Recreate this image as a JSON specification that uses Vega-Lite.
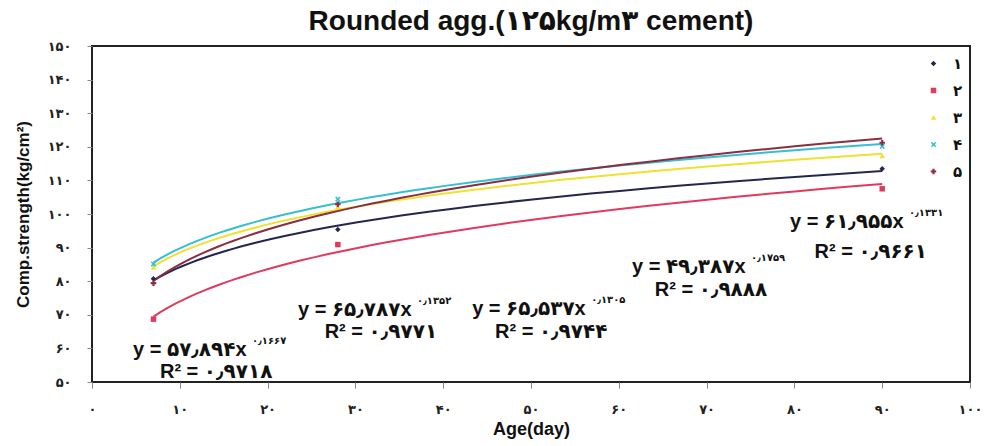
{
  "$schema": "https://vega.github.io/schema/vega-lite/v6.json",
  "width": 878,
  "height": 336,
  "autosize": {"type": "none"},
  "padding": {"left": 92, "top": 46, "right": 18, "bottom": 64},
  "background": "white",
  "config": {"view": {"stroke": "#222", "strokeWidth": 2}, "font": "Liberation Sans, DejaVu Sans", "axis": {"labelOverlap": false}},
  "title": {"text": "Rounded agg.(۱۲۵kg/m۳ cement)", "fontSize": 28, "fontWeight": "bold", "font": "Liberation Sans, DejaVu Sans", "color": "#111", "offset": 4, "anchor": "middle"},
  "resolve": {"legend": {"color": "independent", "shape": "independent"}},
  "datasets": {
    "pts": [
      {"series": "1", "age": 7, "strength": 80.7},
      {"series": "1", "age": 28, "strength": 95.4},
      {"series": "1", "age": 90, "strength": 113.5},
      {"series": "2", "age": 7, "strength": 68.7},
      {"series": "2", "age": 28, "strength": 90.9},
      {"series": "2", "age": 90, "strength": 107.5},
      {"series": "3", "age": 7, "strength": 84.1},
      {"series": "3", "age": 28, "strength": 102.2},
      {"series": "3", "age": 90, "strength": 117.3},
      {"series": "4", "age": 7, "strength": 85.1},
      {"series": "4", "age": 28, "strength": 104.4},
      {"series": "4", "age": 90, "strength": 120.1},
      {"series": "5", "age": 7, "strength": 79.4},
      {"series": "5", "age": 28, "strength": 102.9},
      {"series": "5", "age": 90, "strength": 121.2}
    ],
    "eqs": [
      {"age": 4.67, "strength": 59.5, "eq": "y = ۵۷٫۸۹۴x", "ex": "۰٫۱۶۶۷"},
      {"age": 23.46, "strength": 71.4, "eq": "y = ۶۵٫۷۸۷x", "ex": "۰٫۱۳۵۲"},
      {"age": 43.3, "strength": 71.8, "eq": "y = ۶۵٫۵۳۷x", "ex": "۰٫۱۳۰۵"},
      {"age": 61.5, "strength": 84.2, "eq": "y = ۴۹٫۳۸۷x", "ex": "۰٫۱۷۵۹"},
      {"age": 79.5, "strength": 97.6, "eq": "y = ۶۱٫۹۵۵x", "ex": "۰٫۱۳۳۱"}
    ],
    "r2s": [
      {"age": 7.74, "strength": 53.0, "r2": "R² = ۰٫۹۷۱۸"},
      {"age": 26.5, "strength": 64.9, "r2": "R² = ۰٫۹۷۷۱"},
      {"age": 45.9, "strength": 64.9, "r2": "R² = ۰٫۹۷۴۴"},
      {"age": 64.1, "strength": 77.4, "r2": "R² = ۰٫۹۸۸۸"},
      {"age": 82.3, "strength": 88.7, "r2": "R² = ۰٫۹۶۶۱"}
    ]
  },
  "encoding": {
    "x": {"field": "age", "type": "quantitative", "scale": {"domain": [0, 100], "nice": false},
      "axis": {"title": "Age(day)", "values": [0, 10, 20, 30, 40, 50, 60, 70, 80, 90, 100],
        "labelExpr": "replace(replace(replace(replace(replace(replace(replace(replace(replace(replace(datum.label,regexp('0','g'),'۰'),regexp('1','g'),'۱'),regexp('2','g'),'۲'),regexp('3','g'),'۳'),regexp('4','g'),'۴'),regexp('5','g'),'۵'),regexp('6','g'),'۶'),regexp('7','g'),'۷'),regexp('8','g'),'۸'),regexp('9','g'),'۹')",
        "labelFont": "DejaVu Sans", "labelFontSize": 13, "labelFontWeight": "bold", "labelColor": "#222",
        "labelFlush": false, "labelOverlap": false, "tickColor": "#888", "tickSize": 6, "labelPadding": 15, "domain": false, "grid": false,
        "titleFont": "Liberation Sans", "titleFontSize": 18, "titleFontWeight": "bold", "titleColor": "#111", "titlePadding": 4}},
    "y": {"field": "strength", "type": "quantitative", "scale": {"domain": [50, 150], "nice": false},
      "axis": {"title": "Comp.strength(kg/cm²)", "values": [50, 60, 70, 80, 90, 100, 110, 120, 130, 140, 150], "tickCount": 11,
        "labelExpr": "replace(replace(replace(replace(replace(replace(replace(replace(replace(replace(datum.label,regexp('0','g'),'۰'),regexp('1','g'),'۱'),regexp('2','g'),'۲'),regexp('3','g'),'۳'),regexp('4','g'),'۴'),regexp('5','g'),'۵'),regexp('6','g'),'۶'),regexp('7','g'),'۷'),regexp('8','g'),'۸'),regexp('9','g'),'۹')",
        "labelFont": "DejaVu Sans", "labelFontSize": 13, "labelFontWeight": "bold", "labelColor": "#222",
        "labelOverlap": false, "tickColor": "#888", "tickSize": 5, "labelPadding": 16, "domain": false, "grid": false,
        "titleFont": "Liberation Sans", "titleFontSize": 17, "titleFontWeight": "bold", "titleColor": "#111", "titlePadding": 15}}
  },
  "layer": [
    {
      "data": {"name": "pts"},
      "transform": [{"regression": "strength", "on": "age", "groupby": ["series"], "method": "pow", "extent": [7, 90]}],
      "mark": {"type": "line", "strokeWidth": 2},
      "encoding": {
        "color": {"field": "series", "type": "nominal", "scale": {"domain": ["1", "2", "3", "4", "5"], "range": ["#25264f", "#e03a5e", "#f0e030", "#35bfd0", "#8a2f42"]}, "legend": null}
      }
    },
    {
      "data": {"name": "pts"},
      "mark": {"type": "point", "filled": true, "size": 30, "opacity": 1},
      "encoding": {
        "color": {"field": "series", "type": "nominal", "scale": {"domain": ["1", "2", "3", "4", "5"], "range": ["#25264f", "#e03a5e", "#f0e030", "#35bfd0", "#8a2f42"]},
          "legend": {"orient": "none", "legendX": 834, "legendY": 10, "title": null,
            "labelExpr": "replace(replace(replace(replace(replace(datum.label,'1','۱'),'2','۲'),'3','۳'),'4','۴'),'5','۵')",
            "labelFont": "DejaVu Sans", "labelFontSize": 15, "labelFontWeight": "bold", "labelColor": "#111",
            "symbolSize": 30, "rowPadding": 11, "labelOffset": 12}},
        "shape": {"field": "series", "type": "nominal", "scale": {"domain": ["1", "2", "3", "4", "5"], "range": ["diamond", "square", "triangle-up", "M-1,-0.6L-0.6,-1L0,-0.4L0.6,-1L1,-0.6L0.4,0L1,0.6L0.6,1L0,0.4L-0.6,1L-1,0.6L-0.4,0Z", "cross"]},
          "legend": {"orient": "none", "legendX": 834, "legendY": 10, "title": null,
            "labelExpr": "replace(replace(replace(replace(replace(datum.label,'1','۱'),'2','۲'),'3','۳'),'4','۴'),'5','۵')",
            "labelFont": "DejaVu Sans", "labelFontSize": 15, "labelFontWeight": "bold", "labelColor": "#111",
            "symbolSize": 30, "rowPadding": 11, "labelOffset": 12}}
      }
    },
    {
      "data": {"name": "eqs"},
      "mark": {"type": "text", "align": "left", "baseline": "middle", "fontSize": 20, "fontWeight": "bold", "font": "Liberation Sans, DejaVu Sans", "color": "#111"},
      "encoding": {"text": {"field": "eq"}}
    },
    {
      "data": {"name": "eqs"},
      "mark": {"type": "text", "align": "left", "baseline": "middle", "fontSize": 10, "fontWeight": "bold", "font": "DejaVu Sans", "color": "#111", "dx": 119, "dy": -9},
      "encoding": {"text": {"field": "ex"}}
    },
    {
      "data": {"name": "r2s"},
      "mark": {"type": "text", "align": "left", "baseline": "middle", "fontSize": 20, "fontWeight": "bold", "font": "Liberation Sans, DejaVu Sans", "color": "#111"},
      "encoding": {"text": {"field": "r2"}}
    }
  ]
}
